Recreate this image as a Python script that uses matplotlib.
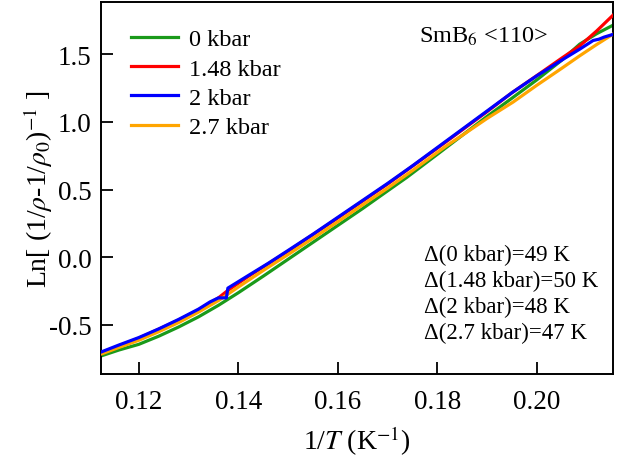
import numpy as np
import matplotlib
matplotlib.use('Agg')
import matplotlib.pyplot as plt

plt.rcParams['font.family'] = ['Liberation Serif', 'DejaVu Serif']
plt.rcParams['mathtext.fontset'] = 'stix'
plt.rcParams['xtick.direction'] = 'in'
plt.rcParams['ytick.direction'] = 'in'

# data: x = 1/T (1/K), y = Ln[(1/rho - 1/rho0)^-1]
x_blue = [0.1124, 0.116, 0.120, 0.124, 0.128, 0.132, 0.1343, 0.1360, 0.1376, 0.1379,
          0.142, 0.146, 0.150, 0.155, 0.160, 0.165, 0.170, 0.175, 0.180, 0.185,
          0.190, 0.195, 0.200, 0.2052, 0.2086, 0.2113, 0.2125, 0.2135, 0.2153]
y_blue = [-0.700, -0.648, -0.593, -0.529, -0.459, -0.383, -0.330, -0.300, -0.300, -0.228,
          -0.135, -0.045, 0.050, 0.170, 0.295, 0.420, 0.545, 0.675, 0.810, 0.945,
          1.080, 1.215, 1.340, 1.460, 1.536, 1.600, 1.610, 1.625, 1.645]

x_red = [0.1124, 0.120, 0.128, 0.132, 0.1360, 0.1379, 0.142, 0.150, 0.160, 0.170, 0.180,
         0.190, 0.195, 0.1999, 0.205, 0.2086, 0.212, 0.2153]
y_red = [-0.705, -0.598, -0.464, -0.388, -0.300, -0.245, -0.142, 0.045, 0.290, 0.540, 0.805,
         1.075, 1.215, 1.339, 1.470, 1.560, 1.670, 1.787]

x_green = [0.1124, 0.116, 0.120, 0.124, 0.128, 0.132, 0.136, 0.140, 0.145, 0.150,
           0.155, 0.160, 0.165, 0.170, 0.1738, 0.180, 0.185, 0.190, 0.1952, 0.200,
           0.205, 0.2086, 0.212, 0.2153]
y_green = [-0.729, -0.685, -0.643, -0.583, -0.515, -0.440, -0.355, -0.262, -0.140, -0.015,
           0.110, 0.235, 0.360, 0.490, 0.588, 0.760, 0.900, 1.040, 1.180, 1.310,
           1.455, 1.573, 1.650, 1.713]

x_orange = [0.1124, 0.116, 0.120, 0.124, 0.128, 0.132, 0.136, 0.140, 0.145, 0.150,
            0.155, 0.160, 0.165, 0.170, 0.175, 0.1818, 0.185, 0.190, 0.1952, 0.200,
            0.205, 0.2086, 0.212, 0.2153]
y_orange = [-0.715, -0.666, -0.613, -0.550, -0.482, -0.405, -0.320, -0.220, -0.098, 0.020,
            0.140, 0.262, 0.387, 0.510, 0.640, 0.822, 0.900, 1.025, 1.145, 1.270,
            1.395, 1.487, 1.570, 1.647]

labels = ['0 kbar', '1.48 kbar', '2 kbar', '2.7 kbar']
gaps = ['49 K', '50 K', '48 K', '47 K']

fig = plt.figure(figsize=(6.18, 4.64), dpi=100)
ax = fig.add_axes([0.1634, 0.1918, 0.8286, 0.8017])

lw = 2.3
ax.plot(x_green, y_green, color='#1a9a1a', lw=lw, label=labels[0], zorder=2)
ax.plot(x_red, y_red, color='#ff0000', lw=lw, label=labels[1], zorder=3)
ax.plot(x_orange, y_orange, color='#ffa500', lw=lw, label=labels[3], zorder=4)
ax.plot(x_blue, y_blue, color='#0000ff', lw=lw, label=labels[2], zorder=5)

h, l = ax.get_legend_handles_labels()
order = [0, 1, 3, 2]
ax.legend([h[i] for i in order], [l[i] for i in order], loc='upper left',
          bbox_to_anchor=(0.015, 0.988), frameon=False, fontsize=17.5,
          handlelength=1.95, handletextpad=0.45, labelspacing=0.3)

ax.set_xlim(0.1124, 0.2153)
ax.set_ylim(-0.862, 1.884)
ax.set_xticks([0.12, 0.14, 0.16, 0.18, 0.20])
ax.set_yticks([-0.5, 0.0, 0.5, 1.0, 1.5])
ax.set_xticklabels(['0.12', '0.14', '0.16', '0.18', '0.20'])
ax.set_yticklabels(['-0.5', '0.0', '0.5', '1.0', '1.5'])
ax.tick_params(labelsize=19.5, length=8.5, width=1.3)
ax.tick_params(axis='x', pad=11)
ax.tick_params(axis='y', pad=7)
for s in ax.spines.values():
    s.set_linewidth(1.4)

ax.set_xlabel(r'1/$T$ (K$^{-1}$)', fontsize=20, labelpad=7)
ax.set_ylabel(r'Ln[ (1/$\rho$-1/$\rho_0$)$^{-1}$ ]', fontsize=20, labelpad=-5)

ax.text(0.621, 0.94, r'SmB$_6$ <110>', transform=ax.transAxes, fontsize=17.5,
        va='top', ha='left')
txt = '\n'.join(['\u0394(%s)=%s' % (p, g) for p, g in zip(labels, gaps)])
ax.text(0.63, 0.35, txt, transform=ax.transAxes, fontsize=16.5,
        va='top', ha='left', linespacing=1.3)

fig.savefig('out.png', dpi=100)
plt.close()
